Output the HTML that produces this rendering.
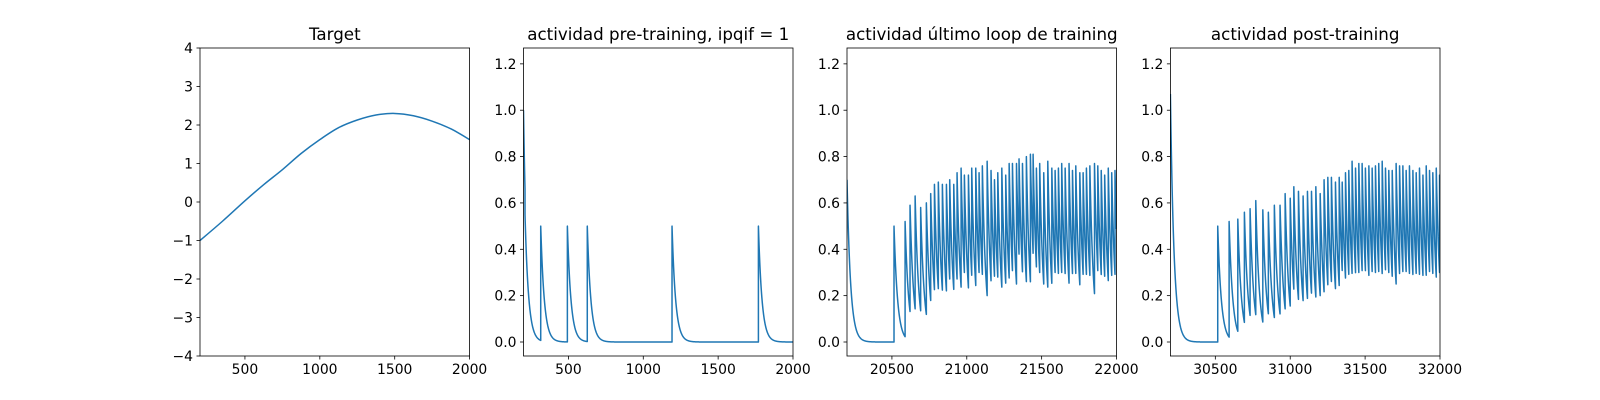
<!DOCTYPE html>
<html><head><meta charset="utf-8"><style>
html,body{margin:0;padding:0;background:#fff;}
svg{display:block;font-family:"DejaVu Sans","Liberation Sans",sans-serif;}
</style></head><body>
<svg id="fig" width="1600" height="400" viewBox="0 0 1600 400" xmlns="http://www.w3.org/2000/svg"></svg>
<script>
// ---- Data ----
const targetT = [200,350,500,625,750,875,1000,1125,1250,1375,1500,1625,1750,1875,2000];
const targetV = [-1.0,-0.5,0.03,0.45,0.84,1.26,1.62,1.93,2.13,2.26,2.30,2.24,2.10,1.90,1.62];

const pre_spikeT = [200,210,315,493,626,1192,1769];
const pre_spikeV = [1.0,0.55,0.5,0.5,0.5,0.5,0.5];

const last_spikeT = [20200,20514,20588,20621,20655,20692,20730,20759,20784,20810,20837,20864,20886,20913,20935,20962,20984,21011,21033,21060,21082,21104,21136,21162,21185,21207,21234,21260,21283,21305,21332,21349,21372,21398,21425,21443,21465,21487,21514,21541,21568,21590,21612,21634,21657,21683,21706,21728,21755,21777,21799,21822,21853,21875,21898,21921,21945,21968,21990];
const last_spikeV = [0.7,0.50,0.52,0.59,0.63,0.58,0.60,0.64,0.68,0.69,0.68,0.68,0.70,0.68,0.73,0.75,0.72,0.72,0.75,0.75,0.73,0.76,0.78,0.74,0.70,0.73,0.75,0.72,0.77,0.77,0.77,0.79,0.77,0.80,0.81,0.81,0.75,0.77,0.73,0.78,0.75,0.74,0.75,0.77,0.75,0.77,0.74,0.76,0.73,0.73,0.75,0.76,0.77,0.76,0.74,0.72,0.75,0.73,0.74];

const post_spikeT = [30200,30516,30592,30650,30694,30732,30770,30817,30854,30894,30932,30966,31000,31024,31055,31086,31115,31142,31171,31200,31226,31251,31275,31302,31327,31347,31369,31391,31413,31436,31458,31480,31502,31525,31547,31569,31591,31614,31636,31658,31681,31707,31730,31752,31774,31796,31819,31841,31863,31886,31908,31930,31952,31975,31997];
const post_spikeV = [1.07,0.50,0.52,0.53,0.56,0.575,0.61,0.57,0.56,0.59,0.59,0.64,0.62,0.67,0.65,0.63,0.65,0.65,0.67,0.64,0.70,0.71,0.71,0.69,0.71,0.69,0.73,0.74,0.78,0.75,0.77,0.77,0.75,0.76,0.75,0.76,0.77,0.78,0.75,0.74,0.74,0.77,0.76,0.76,0.74,0.76,0.74,0.73,0.75,0.72,0.76,0.74,0.73,0.75,0.72];

const tau = 24;

const svg = document.getElementById('fig');
const NS = 'http://www.w3.org/2000/svg';
function mk(tag, attrs, parent){
  const e = document.createElementNS(NS, tag);
  for (const k in attrs) e.setAttribute(k, attrs[k]);
  (parent||svg).appendChild(e);
  return e;
}
const axTop = 48, axBot = 356;
const panels = [
  {x0:200.0, x1:469.6, title:'Target', xmin:200, xmax:2000, ymin:-4, ymax:4, xt:[500,1000,1500,2000], yt:[-4,-3,-2,-1,0,1,2,3,4], yfmt:v=>v<0?'\u2212'+Math.abs(v):String(v), name:'target'},
  {x0:523.5, x1:793.0, title:'actividad pre-training, ipqif = 1', xmin:200, xmax:2000, ymin:-0.0604, ymax:1.2684, xt:[500,1000,1500,2000], yt:[0,0.2,0.4,0.6,0.8,1.0,1.2], yfmt:v=>v.toFixed(1), name:'pre-training', sT:pre_spikeT, sV:pre_spikeV},
  {x0:847.0, x1:1116.5, title:'actividad \u00faltimo loop de training', xmin:20200, xmax:22000, ymin:-0.0604, ymax:1.2684, xt:[20500,21000,21500,22000], yt:[0,0.2,0.4,0.6,0.8,1.0,1.2], yfmt:v=>v.toFixed(1), name:'last-loop', sT:last_spikeT, sV:last_spikeV},
  {x0:1170.4, x1:1440.0, title:'actividad post-training', xmin:30200, xmax:32000, ymin:-0.0604, ymax:1.2684, xt:[30500,31000,31500,32000], yt:[0,0.2,0.4,0.6,0.8,1.0,1.2], yfmt:v=>v.toFixed(1), name:'post-training', sT:post_spikeT, sV:post_spikeV}
];

panels.forEach(p=>{
  const g = mk('g', {});
  
  
  const sx = t => p.x0 + (t-p.xmin)/(p.xmax-p.xmin)*(p.x1-p.x0);
  const sy = v => axBot - (v-p.ymin)/(p.ymax-p.ymin)*(axBot-axTop);
  const clipId = 'clip-'+p.name;
  const cp = mk('clipPath', {id:clipId}, g);
  mk('rect', {x:p.x0, y:axTop, width:p.x1-p.x0, height:axBot-axTop}, cp);
  let d = '';
  if (!p.sT) {
    const pts = targetT.map((t,i)=>[sx(t), sy(targetV[i])]);
    d = 'M'+pts[0][0]+','+pts[0][1];
    for (let i=0;i<pts.length-1;i++){
      const p0=pts[Math.max(0,i-1)], p1=pts[i], p2=pts[i+1], p3=pts[Math.min(pts.length-1,i+2)];
      const c1=[p1[0]+(p2[0]-p0[0])/6, p1[1]+(p2[1]-p0[1])/6];
      const c2=[p2[0]-(p3[0]-p1[0])/6, p2[1]-(p3[1]-p1[1])/6];
      d += ' C'+c1[0].toFixed(2)+','+c1[1].toFixed(2)+' '+c2[0].toFixed(2)+','+c2[1].toFixed(2)+' '+p2[0].toFixed(2)+','+p2[1].toFixed(2);
    }
  } else {
    const T = p.sT, V = p.sV;
    for (let i=0;i<T.length;i++){
      const tEnd = i<T.length-1 ? T[i+1] : p.xmax;
      d += (i===0?'M':' L') + sx(T[i]).toFixed(2)+','+sy(V[i]).toFixed(2);
      for (let t=T[i]+1; t<=tEnd; t+=1){
        d += ' L'+sx(t).toFixed(2)+','+sy(V[i]*Math.exp(-(t-T[i])/tau)).toFixed(2);
      }
    }
  }
  const line = mk('path', {d:d, fill:'none', stroke:'#1f77b4', 'stroke-width':1.5, 'stroke-linejoin':'round', 'clip-path':'url(#'+clipId+')'}, g);
  
  
  const fr = mk('rect', {x:p.x0, y:axTop, width:p.x1-p.x0, height:axBot-axTop, fill:'none', stroke:'#000', 'stroke-width':0.8}, g);
  
  
  p.xt.forEach(t=>{
    const x = sx(t);
    mk('line', {x1:x, x2:x, y1:axBot, y2:axBot+3.5, stroke:'#000', 'stroke-width':0.8}, g);
    const tx = mk('text', {x:x, y:axBot+18, 'text-anchor':'middle', 'font-size':'13.9px', fill:'#000'}, g);
    tx.textContent = String(t);
    
    
  });
  p.yt.forEach(v=>{
    const y = sy(v);
    mk('line', {x1:p.x0-3.5, x2:p.x0, y1:y, y2:y, stroke:'#000', 'stroke-width':0.8}, g);
    const ty = mk('text', {x:p.x0-7, y:y+5, 'text-anchor':'end', 'font-size':'13.9px', fill:'#000'}, g);
    ty.textContent = p.yfmt(v);
    
    
  });
  const tt = mk('text', {x:(p.x0+p.x1)/2, y:axTop-8, 'text-anchor':'middle', 'font-size':'16.7px', fill:'#000'}, g);
  tt.textContent = p.title;
  
  
});
</script>
</body></html>
